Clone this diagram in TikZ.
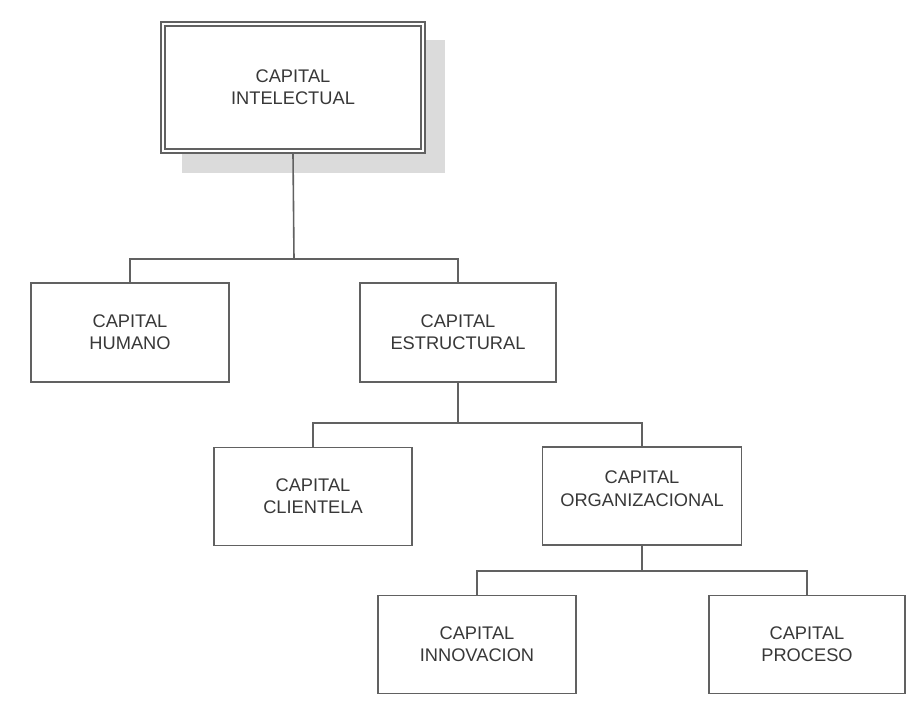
\documentclass[tikz,border=0pt]{standalone}
\usepackage{fontspec}
\setmainfont{Liberation Sans}
\begin{document}
\begin{tikzpicture}[x=0.75pt,y=-0.75pt,
  line col/.style={draw=black!62},
  orgbox/.style={rectangle, line col, line width=1.25pt, fill=white,
    text=black!78, font=\fontsize{13.7pt}{16.8pt}\selectfont,
    align=center, inner sep=0pt},
  link/.style={line col, line width=1.2pt}]
\useasboundingbox (0,0) rectangle (915,704);

% stippled drop shadow behind the root box
\fill[black!14] (426,40) rectangle (445,173);
\fill[black!14] (182,153) rectangle (445,173);

% root box with a double frame
\node[orgbox, minimum width=264*0.75pt, minimum height=131*0.75pt]
  (top) at (293,87.5) {CAPITAL\\INTELECTUAL};
\draw[line col, line width=1.1pt] (165,26) rectangle (421,149);

% second level
\node[orgbox, minimum width=198*0.75pt, minimum height=99*0.75pt]
  (hum) at (130,332.5) {CAPITAL\\HUMANO};
\node[orgbox, minimum width=196*0.75pt, minimum height=99*0.75pt]
  (est) at (458,332.5) {CAPITAL\\ESTRUCTURAL};

% third level
\node[orgbox, minimum width=198*0.75pt, minimum height=98*0.75pt]
  (cli) at (313,496.5) {CAPITAL\\CLIENTELA};
\node[orgbox, minimum width=199*0.75pt, minimum height=98*0.75pt]
  (org) at (642,496) {CAPITAL\\ORGANIZACIONAL\\[-6pt]};

% fourth level
\node[orgbox, minimum width=198*0.75pt, minimum height=98*0.75pt]
  (inn) at (477,644.5) {CAPITAL\\INNOVACION};
\node[orgbox, minimum width=196*0.75pt, minimum height=98*0.75pt]
  (pro) at (807,644.5) {CAPITAL\\PROCESO};

% junction points of the branch lines
\coordinate (j1) at (294,259);
\coordinate (j2) at (458,423);
\coordinate (j3) at (642,571);

\draw[link] (top.south) -- (j1);
\draw[link] (hum.north) |- (j1) -| (est.north);
\draw[link] (est.south) -- (j2);
\draw[link] (cli.north) |- (j2) -| (org.north);
\draw[link] (org.south) -- (j3);
\draw[link] (inn.north) |- (j3) -| (pro.north);
\end{tikzpicture}
\end{document}
